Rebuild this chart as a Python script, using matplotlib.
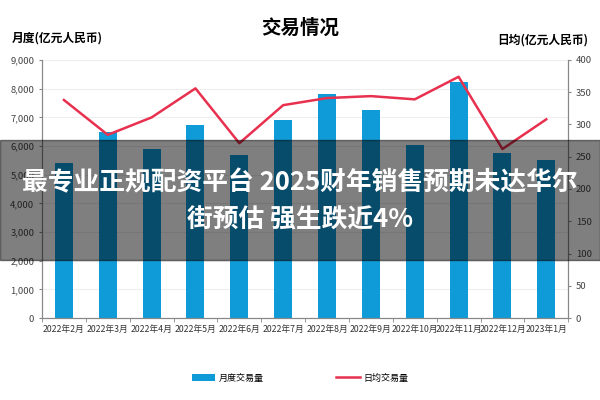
import matplotlib.pyplot as plt
import numpy as np
from matplotlib.patches import Rectangle

plt.rcParams['font.family'] = ['Noto Sans CJK SC', 'DejaVu Sans']

months = ['2022年2月', '2022年3月', '2022年4月', '2022年5月', '2022年6月', '2022年7月',
          '2022年8月', '2022年9月', '2022年10月', '2022年11月', '2022年12月', '2023年1月']
monthly = [5400, 6500, 5900, 6750, 5700, 6900, 7800, 7250, 6050, 8250, 5750, 5500]
daily = [338, 284, 311, 356, 271, 330, 341, 344, 339, 374, 262, 308]

bar_color = '#0f9bd7'
line_color = '#e8304f'

fig = plt.figure(figsize=(6, 4), dpi=100)
ax = fig.add_axes([0.07, 0.205, 0.877, 0.645])
ax2 = ax.twinx()

x = np.arange(len(months))
ax.bar(x, monthly, width=0.41, color=bar_color, label='月度交易量', zorder=2)
ax2.plot(x, daily, color=line_color, lw=1.8, label='日均交易量', zorder=3)

ax.set_xlim(-0.5, len(months) - 0.5)
ax.set_ylim(0, 9000)
ax.set_yticks(np.arange(0, 9001, 1000))
ax.set_yticklabels([f'{v:,}' for v in range(0, 9001, 1000)])
ax2.set_ylim(0, 400)
ax2.set_yticks(np.arange(0, 401, 50))

ax.set_xticks(x)
ax.set_xticklabels(months)
ax.set_xticks(np.arange(-0.5, len(months), 1), minor=True)
ax.tick_params(axis='x', which='major', length=0, labelsize=6.3, pad=5, colors='#333333')
ax.tick_params(axis='x', which='minor', length=3, color='#888888')
ax.tick_params(axis='y', labelsize=6.8, length=2, color='#888888', colors='#444444')
ax2.tick_params(axis='y', labelsize=6.8, length=2, color='#888888', colors='#444444')

ax.grid(axis='y', color='#eeeeee', lw=0.8, zorder=0)
ax.set_axisbelow(True)
for a in (ax, ax2):
    a.spines['top'].set_visible(False)
    for s in ('left', 'right', 'bottom'):
        a.spines[s].set_color('#888888')
        a.spines[s].set_linewidth(0.8)

fig.text(0.5, 0.93, '交易情况', ha='center', va='center', fontsize=14, fontweight='bold')
fig.text(0.02, 0.905, '月度(亿元人民币)', ha='left', va='center', fontsize=8.5, fontweight='bold')
fig.text(0.98, 0.9, '日均(亿元人民币)', ha='right', va='center', fontsize=8.5, fontweight='bold')

h1, l1 = ax.get_legend_handles_labels()
h2, l2 = ax2.get_legend_handles_labels()
fig.legend(h1 + h2, l1 + l2, loc='center', bbox_to_anchor=(0.5, 0.055), ncol=2,
           frameon=False, fontsize=6.5, columnspacing=8.0, handlelength=2.6,
           handletextpad=0.4)

# grey banner across the middle
fig.patches.append(Rectangle((0, 0.35), 1, 0.3, transform=fig.transFigure,
                             color='black', alpha=0.5, zorder=10))
fig.text(0.5, 0.543, '最专业正规配资平台 2025财年销售预期未达华尔', ha='center', va='center',
         fontsize=18.5, fontweight='bold', color='white', zorder=11)
fig.text(0.5, 0.45, '街预估 强生跌近4%', ha='center', va='center',
         fontsize=18.5, fontweight='bold', color='white', zorder=11)

fig.savefig('out.png', dpi=100)
